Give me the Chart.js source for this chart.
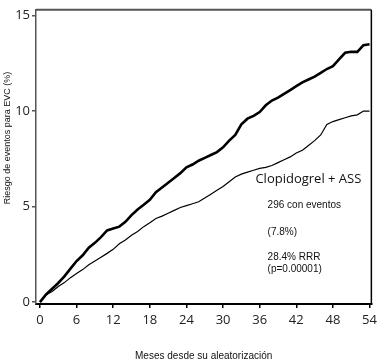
<!DOCTYPE html>
<html>
<head>
<meta charset="utf-8">
<script src="https://cdn.jsdelivr.net/npm/chart.js@4.4.1/dist/chart.umd.min.js"></script>
<style>
  html, body { margin: 0; padding: 0; background: #fff; }
  #wrap { width: 381px; height: 362px; }
</style>
</head>
<body>
<div id="wrap"><canvas id="risk"></canvas></div>
<script>
// meses desde la aleatorización
const months = [0, 1, 2, 3, 4, 5, 6, 7, 8, 9, 10, 11, 12, 13, 14, 15, 16, 17, 18, 19, 20,
    21, 22, 23, 24, 25, 26, 27, 28, 29, 30, 31, 32, 33, 34, 35, 36, 37, 38, 39, 40,
    41, 42, 43, 44, 45, 46, 47, 48, 49, 50, 51, 52, 53, 54];

// curva gruesa (placebo + ASS)
const placeboASS = [0, 0.4, 0.7, 1.0, 1.35, 1.75, 2.15, 2.45, 2.85, 3.1, 3.4,
    3.75, 3.85, 3.95, 4.2, 4.55, 4.85, 5.1, 5.35, 5.75, 6.0,
    6.25, 6.5, 6.75, 7.05, 7.2, 7.4, 7.55, 7.7, 7.85, 8.1,
    8.45, 8.75, 9.3, 9.6, 9.75, 9.95, 10.3, 10.55, 10.7, 10.9,
    11.1, 11.3, 11.5, 11.65, 11.8, 12.0, 12.2, 12.35, 12.7, 13.05,
    13.1, 13.1, 13.45, 13.5];

// curva fina (clopidogrel + ASS)
const clopidogrelASS = [0, 0.38, 0.55, 0.82, 1.02, 1.28, 1.5, 1.7, 1.95, 2.15, 2.35,
    2.55, 2.76, 3.05, 3.25, 3.5, 3.7, 3.95, 4.15, 4.38, 4.5,
    4.65, 4.8, 4.95, 5.05, 5.15, 5.25, 5.45, 5.65, 5.85, 6.05,
    6.3, 6.55, 6.7, 6.8, 6.9, 7.0, 7.05, 7.15, 7.3, 7.45,
    7.6, 7.8, 7.95, 8.2, 8.45, 8.75, 9.3, 9.45, 9.55, 9.65,
    9.75, 9.8, 10.0, 10.0];

const xTicks = [0, 6, 12, 18, 24, 30, 36, 42, 48, 54];
const yTicks = [0, 5, 10, 15];

const notes = [
    { text: 'Clopidogrel + ASS', x: 35.3, y: 6.42, font: '13px "Open Sans"' },
    { text: '296 con eventos', x: 37.3, y: 5.08, font: '10px "Liberation Sans"' },
    { text: '(7.8%)', x: 37.3, y: 3.65, font: '10px "Liberation Sans"' },
    { text: '28.4% RRR', x: 37.3, y: 2.35, font: '10px "Liberation Sans"' },
    { text: '(p=0.00001)', x: 37.3, y: 1.72, font: '10px "Liberation Sans"' }
];

const extras = {
    id: 'extras',
    afterDraw(chart) {
        const ctx = chart.ctx;
        const a = chart.chartArea;
        const xs = chart.scales.x, ys = chart.scales.y;
        ctx.save();
        // marco superior y derecho
        ctx.strokeStyle = '#555';
        ctx.lineWidth = 2;
        ctx.beginPath();
        ctx.moveTo(a.left, a.top);
        ctx.lineTo(a.right, a.top);
        ctx.stroke();
        ctx.strokeStyle = '#000';
        ctx.lineWidth = 1.5;
        ctx.beginPath();
        ctx.moveTo(a.right, a.top);
        ctx.lineTo(a.right, a.bottom);
        ctx.stroke();

        ctx.fillStyle = '#111';
        ctx.textAlign = 'left';
        ctx.textBaseline = 'middle';
        notes.forEach(n => {
            ctx.font = n.font;
            ctx.fillText(n.text, xs.getPixelForValue(n.x), ys.getPixelForValue(n.y));
        });

        // título del eje y
        ctx.font = '9px "Liberation Sans"';
        ctx.textAlign = 'center';
        ctx.translate(8, 138);
        ctx.rotate(-Math.PI / 2);
        ctx.fillText('Riesgo de eventos para EVC (%)', 0, 0);
        ctx.restore();
    }
};

new Chart(document.getElementById('risk'), {
    type: 'line',
    data: {
        labels: months,
        datasets: [{
            label: 'Placebo + ASS',
            data: months.map((m, i) => ({ x: m, y: placeboASS[i] })),
            borderColor: '#000',
            borderWidth: 2.6,
            pointRadius: 0,
            tension: 0
        }, {
            label: 'Clopidogrel + ASS',
            data: months.map((m, i) => ({ x: m, y: clopidogrelASS[i] })),
            borderColor: '#000',
            borderWidth: 1.2,
            pointRadius: 0,
            tension: 0
        }]
    },
    options: {
        responsive: true,
        maintainAspectRatio: false,
        animation: false,
        layout: { padding: { top: 4, right: 6, left: 0, bottom: 0 } },
        plugins: {
            legend: { display: false },
            tooltip: { enabled: false }
        },
        scales: {
            x: {
                type: 'linear',
                min: -0.65,
                max: 54.3,
                afterBuildTicks: axis => { axis.ticks = xTicks.map(v => ({ value: v })); },
                afterFit: axis => { axis.height = 58; },
                ticks: {
                    color: '#222',
                    font: { family: '"Open Sans"', size: 13 },
                    padding: 4,
                    maxRotation: 0,
                    autoSkip: false
                },
                grid: { drawOnChartArea: false, tickLength: 4, color: '#000', lineWidth: 1.5 },
                border: { color: '#000', width: 2 },
                title: {
                    display: true,
                    text: 'Meses desde su aleatorización',
                    color: '#111',
                    font: { family: '"Liberation Sans"', size: 10 },
                    padding: { top: 1, bottom: 0 }
                }
            },
            y: {
                min: -0.1,
                max: 15.3,
                afterBuildTicks: axis => { axis.ticks = yTicks.map(v => ({ value: v })); },
                afterFit: axis => { axis.width = 36; },
                ticks: {
                    color: '#222',
                    font: { family: '"Open Sans"', size: 13 },
                    padding: 2
                },
                grid: { drawOnChartArea: false, tickLength: 4, color: '#555', lineWidth: 1.5 },
                border: { color: '#555', width: 1.5 }
            }
        }
    },
    plugins: [extras]
});
</script>
</body>
</html>
